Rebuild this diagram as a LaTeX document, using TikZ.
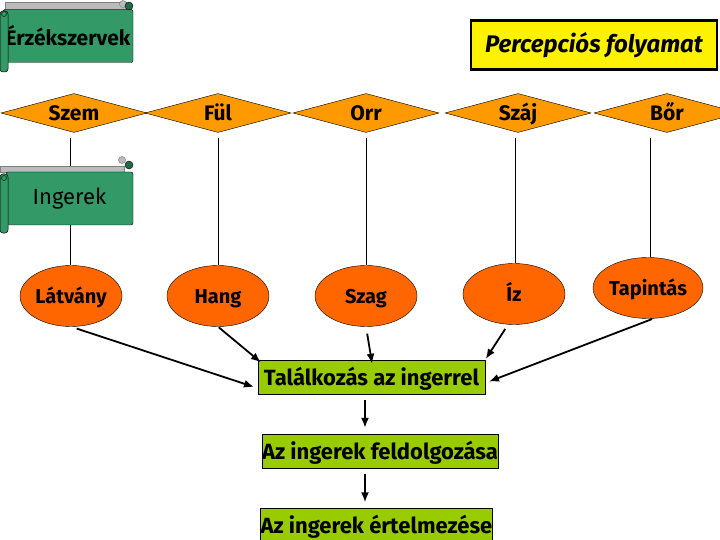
\documentclass[tikz,border=0pt]{standalone}
\usepackage{fontspec}
\setmainfont{Fira Sans}
\usetikzlibrary{shapes.geometric,arrows.meta}
\definecolor{scrollgreen}{HTML}{339966}
\definecolor{darkscroll}{HTML}{1F6B45}
\definecolor{dorange}{HTML}{FF9900}
\definecolor{eorange}{HTML}{FF6600}
\definecolor{boxgreen}{HTML}{99CC00}
\definecolor{curlgray}{HTML}{BBBBBB}
\tikzset{
  sense/.style={diamond, draw=black, fill=dorange, inner sep=0pt, aspect=3.7,
    minimum width=146pt, minimum height=39pt, text height=19pt, text depth=3pt,
    font=\fontsize{21}{23}\selectfont\bfseries},
  stim/.style={ellipse, draw=black, fill=eorange, inner sep=0pt,
    minimum width=102pt, minimum height=61pt, text height=17pt, text depth=3pt,
    font=\fontsize{20}{22}\selectfont\bfseries},
  stepbox/.style={rectangle, draw=black, fill=boxgreen, inner sep=0pt,
    minimum height=34pt, text height=19pt, text depth=3pt, font=\fontsize{22}{24}\selectfont\bfseries},
  scrollbox/.style={rectangle, draw=black, fill=scrollgreen, inner sep=0pt, rounded corners=2pt},
  vline/.style={draw=black, line width=0.6pt},
  arr/.style={draw=black, line width=1.8pt, -{Latex[length=10pt,width=8pt]}},
  roll/.style={draw=black, fill=scrollgreen, rounded corners=3pt, line width=0.5pt},
  strip/.style={draw=gray, fill=curlgray, line width=0.5pt},
}
\begin{document}
\begin{tikzpicture}[x=1pt,y=-1pt]
\useasboundingbox (0,0) rectangle (720,540);
% senses
\node[sense] (szem) at (74,113) {Szem};
\node[sense] (ful) at (218,113) {Fül};
\node[sense] (orr) at (366,113) {Orr};
\node[sense] (szaj) at (518,113) {Száj};
\node[sense] (bor) at (667,113) {Bőr};
% stimuli
\node[stim] (latvany) at (71,296) {Látvány};
\node[stim] (hang) at (218,296) {Hang};
\node[stim] (szag) at (366,296) {Szag};
\node[stim] (iz) at (514,294) {Íz};
\node[stim] (tapintas) at (648,288) {Tapintás};
% vertical lines
\draw[vline, shorten <=5pt] (szem.south) ++(-4,0) -- ([xshift=-1pt]latvany.north);
\draw[vline, shorten <=5pt] (ful.south) -- (hang.north);
\draw[vline, shorten <=5pt] (orr.south) -- (szag.north);
\draw[vline, shorten <=5pt] ([xshift=-3pt]szaj.south) -- ([xshift=1pt]iz.north);
\draw[vline, shorten <=5pt] ([xshift=-17pt]bor.south) -- ([xshift=2pt]tapintas.north);
% Érzékszervek scroll
\draw[strip] (5,2) rectangle (126,9);
\draw[strip] (123,4) circle (3.5);
\node[scrollbox, minimum width=130pt, minimum height=53pt, font=\fontsize{21}{23}\selectfont\bfseries] (erzek) at (68,36) {Érzékszervek};
\draw[fill=darkscroll, draw=black, line width=0.4pt] (129,6) circle (4);
\draw[roll] (0,11) rectangle (8,72);
\draw[draw=black, line width=0.4pt] (4,14) circle (2.5);
% Ingerek scroll
\draw[strip] (0,166) rectangle (124,172);
\draw[strip] (122,160) circle (3.5);
\node[scrollbox, minimum width=127pt, minimum height=53pt, font=\fontsize{22}{24}\selectfont] (ingerek) at (69.5,198.5) {Ingerek};
\draw[fill=darkscroll, draw=black, line width=0.4pt] (129,165) circle (4);
\draw[roll] (0,174) rectangle (8,233);
\draw[draw=black, line width=0.4pt] (4,178) circle (2.5);
% title
\node[rectangle, draw=black, line width=2.5pt, fill=yellow, minimum width=246pt, minimum height=49pt,
  font=\fontsize{24}{26}\selectfont\bfseries\itshape] (title) at (594,45) {Percepciós folyamat};
% process boxes
\node[stepbox, minimum width=227pt] (talal) at (371.5,377) {Találkozás az ingerrel};
\node[stepbox, minimum width=234pt] (feld) at (380,451) {Az ingerek feldolgozása};
\node[stepbox, minimum width=227pt, minimum height=33pt] (ertel) at (376.5,525) {Az ingerek értelmezése};
% arrows
\draw[arr, shorten <=6pt, shorten >=4pt] (latvany.south) -- ([yshift=6pt]talal.south west);
\draw[arr, shorten <=1pt, shorten >=-4pt] (hang.south) -- (talal.north west);
\draw[arr, shorten <=7pt, shorten >=-4pt] (szag.south) -- (talal.north);
\draw[arr, shorten <=5pt, shorten >=1pt] ([xshift=-6pt]iz.south) -- (talal.north east);
\draw[arr, shorten <=1pt, shorten >=4pt] ([xshift=5pt]tapintas.south) -- ([yshift=-6pt]talal.east);
\draw[arr, shorten <=6pt, shorten >=6pt] ([xshift=-6.5pt]talal.south) -- ([xshift=-6.5pt]talal.south |- feld.north);
\draw[arr, shorten <=6pt, shorten >=6pt] ([xshift=-15pt]feld.south) -- ([xshift=-15pt]feld.south |- ertel.north);
\end{tikzpicture}
\end{document}
